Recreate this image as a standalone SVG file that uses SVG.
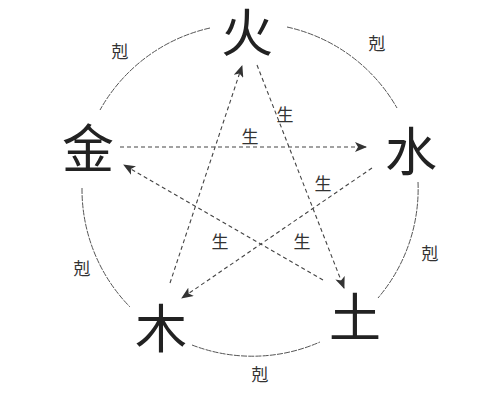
<svg xmlns="http://www.w3.org/2000/svg" width="500" height="400" viewBox="0 0 500 400">
<style>
.big{font-family:"Noto Sans CJK SC","Noto Sans CJK JP",sans-serif;font-size:52px;fill:#222;text-anchor:middle;dominant-baseline:central}
.sm{font-family:"Noto Sans CJK SC","Noto Sans CJK JP",sans-serif;font-size:17px;fill:#333;text-anchor:middle;dominant-baseline:central}
.arc{fill:none;stroke:#555;stroke-width:1;stroke-dasharray:6 1.2}
.arw{fill:none;stroke:#444;stroke-width:1.1;stroke-dasharray:4 3}
</style>
<defs>
<marker id="ah" viewBox="0 0 12 10" refX="11" refY="5" markerWidth="12" markerHeight="10" markerUnits="userSpaceOnUse" orient="auto">
<path d="M0,0 L12,5 L0,10 L3,5 Z" fill="#333"/>
</marker>
</defs>
<rect width="500" height="400" fill="#fff"/>
<g id="connectors">
<path class="arc" d="M210,28 A168,168 0 0 0 100,110"/>
<path class="arc" d="M287,27 A168,168 0 0 1 397,108"/>
<path class="arc" d="M82,188 A168,168 0 0 0 130,307"/>
<path class="arc" d="M418,182 A168,168 0 0 1 378,298"/>
<path class="arc" d="M192,345 A168,168 0 0 0 320,342"/>
<line class="arw" x1="120" y1="147" x2="366" y2="147" marker-end="url(#ah)"/>
<line class="arw" x1="170" y1="283" x2="242" y2="66" marker-end="url(#ah)"/>
<line class="arw" x1="257" y1="65" x2="344" y2="288" marker-end="url(#ah)"/>
<line class="arw" x1="372" y1="168" x2="182" y2="298" marker-end="url(#ah)"/>
<line class="arw" x1="323" y1="280" x2="124" y2="165" marker-end="url(#ah)"/>
<text class="sm" x="120" y="50">剋</text>
<text class="sm" x="377" y="42">剋</text>
<text class="sm" x="82" y="267">剋</text>
<text class="sm" x="430" y="252">剋</text>
<text class="sm" x="260" y="373">剋</text>
<text class="sm" x="285" y="113">生</text>
<text class="sm" x="250" y="135">生</text>
<text class="sm" x="323" y="182">生</text>
<text class="sm" x="220" y="240">生</text>
<text class="sm" x="302" y="240">生</text>
</g>
<g id="fire"><text class="big" x="247" y="29">火</text></g>
<g id="metal"><text class="big" x="88" y="145">金</text></g>
<g id="water"><text class="big" x="411" y="148">水</text></g>
<g id="wood"><text class="big" x="161" y="325">木</text></g>
<g id="earth"><text class="big" x="355" y="314">土</text></g>
</svg>
